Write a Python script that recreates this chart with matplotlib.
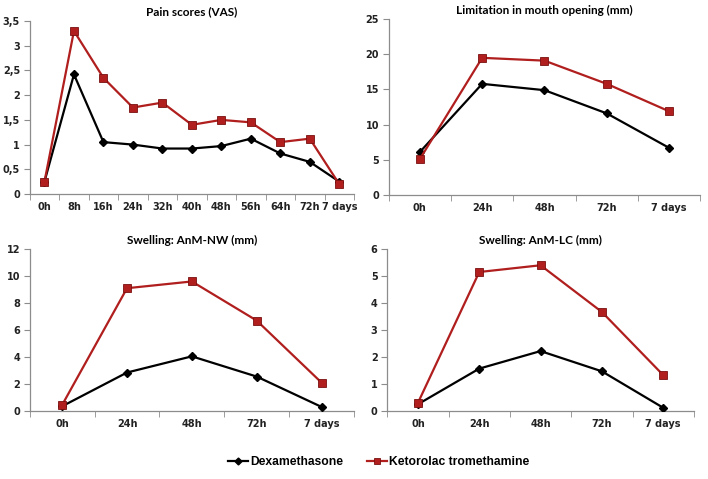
import matplotlib
matplotlib.use("Agg")
import matplotlib.pyplot as plt
import numpy as np
from matplotlib.lines import Line2D

pain_labels = ["0h", "8h", "16h", "24h", "32h", "40h", "48h", "56h", "64h", "72h", "7 days"]
pain_dex = [0.25, 2.42, 1.05, 1.0, 0.92, 0.92, 0.97, 1.12, 0.82, 0.65, 0.25]
pain_ket = [0.25, 3.3, 2.35, 1.75, 1.85, 1.4, 1.5, 1.45, 1.05, 1.12, 0.2]

day_labels = ["0h", "24h", "48h", "72h", "7 days"]
mouth_dex = [6.1, 15.8, 14.9, 11.6, 6.7]
mouth_ket = [5.1, 19.5, 19.1, 15.8, 11.9]

nw_dex = [0.35, 2.85, 4.05, 2.55, 0.3]
nw_ket = [0.45, 9.1, 9.6, 6.7, 2.1]

lc_dex = [0.25, 1.57, 2.22, 1.47, 0.12]
lc_ket = [0.3, 5.15, 5.4, 3.67, 1.33]

RED = "#B01E1E"
BLACK = "#000000"
AXC = "#8C8C8C"
TICKFONT = {"family": "DejaVu Sans", "weight": "bold", "size": 7}
TITLEFONT = ["Lato"]

fig = plt.figure(figsize=(7.08, 4.79), dpi=100)
fig.patch.set_facecolor("white")

def fmt(v, comma):
    s = ("%g" % v)
    return s.replace(".", ",") if comma else s

def panel(rect, labels, dex, ket, title, ymax, ystep, comma=False):
    ax = fig.add_axes(rect)
    x = np.arange(len(labels))
    ax.plot(x, dex, color=BLACK, lw=1.6, marker="D", ms=4, mfc=BLACK, mec=BLACK, zorder=3)
    ax.plot(x, ket, color=RED, lw=1.6, marker="s", ms=5.8, mfc=RED, mec="#7a1010", mew=0.6, zorder=4)
    ax.set_xlim(-0.5, len(labels) - 0.5)
    ax.set_ylim(0, ymax)
    yt = np.arange(0, ymax + ystep / 2, ystep)
    ax.set_yticks(yt)
    ax.set_yticklabels([fmt(v, comma) for v in yt], color="#222222", **TICKFONT)
    ax.set_xticks(x)
    ax.set_xticklabels(labels, color="#222222", **TICKFONT)
    ax.set_xticks(np.arange(-0.5, len(labels)), minor=True)
    ax.tick_params(axis="x", which="major", length=0, pad=6)
    ax.tick_params(axis="x", which="minor", length=4, color=AXC, direction="out")
    ax.tick_params(axis="y", length=4, color=AXC, direction="out", pad=3)
    for s in ["top", "right"]:
        ax.spines[s].set_visible(False)
    for s in ["left", "bottom"]:
        ax.spines[s].set_color(AXC)
        ax.spines[s].set_linewidth(0.9)
    ax.set_title(title, fontsize=8.5, fontweight="bold", family=TITLEFONT, pad=4)
    return ax

panel([0.042, 0.595, 0.458, 0.361], pain_labels, pain_dex, pain_ket, "Pain scores (VAS)", 3.5, 0.5, comma=True)
panel([0.549, 0.593, 0.440, 0.367], day_labels, mouth_dex, mouth_ket, "Limitation in mouth opening (mm)", 25, 5)
panel([0.042, 0.142, 0.458, 0.338], day_labels, nw_dex, nw_ket, "Swelling: AnM-NW (mm)", 12, 2)
panel([0.547, 0.142, 0.433, 0.338], day_labels, lc_dex, lc_ket, "Swelling: AnM-LC (mm)", 6, 1)

handles = [
    Line2D([], [], color=BLACK, lw=1.6, marker="D", ms=3.5, mfc=BLACK, mec=BLACK),
    Line2D([], [], color=RED, lw=1.6, marker="s", ms=5, mfc=RED, mec="#7a1010", mew=0.6),
]
fig.legend(handles, ["Dexamethasone", "Ketorolac tromethamine"], loc="center",
           bbox_to_anchor=(0.535, 0.035), ncol=2, frameon=False, handlelength=1.6,
           handletextpad=0.2, columnspacing=2.0,
           prop={"family": "Liberation Sans", "weight": "bold", "size": 8.7})

fig.savefig("out.png", dpi=100, facecolor="white")
